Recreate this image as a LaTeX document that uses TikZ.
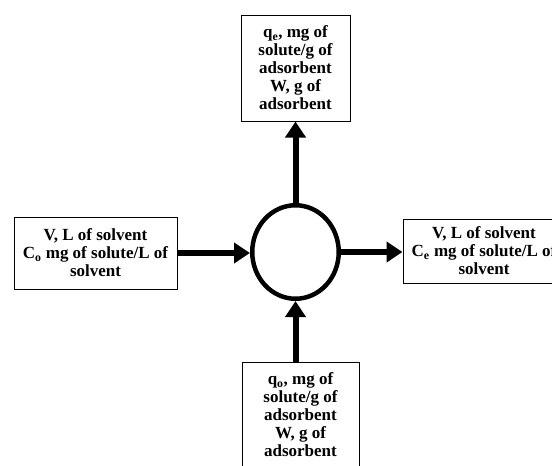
\documentclass[tikz,border=0pt]{standalone}
\usepackage{fontspec}
\setmainfont{Liberation Serif}
\usetikzlibrary{arrows.meta,shapes.geometric}
\begin{document}
\begin{tikzpicture}[x=1pt,y=-1pt,
  box/.style={draw=black,line width=1pt,fill=white,align=center,inner sep=0pt,
    font=\fontsize{17}{18}\selectfont\bfseries},
  flow/.style={line width=6pt,-{Triangle[length=16pt,width=20pt]}}]
\useasboundingbox (0,0) rectangle (552,466);
\clip (0,0) rectangle (552,466);
\node[box,minimum width=109pt,minimum height=106pt] (t) at (295.5,68)
  {q\textsubscript{e}, mg of\\solute/g of\\adsorbent\\W, g of\\adsorbent};
\node[box,minimum width=163pt,minimum height=72pt] (l) at (95.5,253)
  {V, L of solvent\\C\textsubscript{o} mg of solute/L of\\solvent};
\node[box,minimum width=162pt,minimum height=64pt] (r) at (484,251)
  {V, L of solvent\\C\textsubscript{e} mg of solute/L of\\solvent};
\node[box,minimum width=117pt,minimum height=106pt] (b) at (300.5,415)
  {q\textsubscript{o}, mg of\\solute/g of\\adsorbent\\W, g of\\adsorbent};
\node[ellipse,draw=black,line width=4.5pt,minimum width=86.5pt,minimum height=93.5pt,inner sep=0pt] (c) at (295.5,252) {};
\draw[flow] (l.east) -- (l.east -| c.west);
\draw[flow] (c.east) -- (c.east -| r.west);
\draw[flow] (c.north) -- (c.north |- t.south);
\draw[flow] (c.south |- b.north) -- (c.south);
\end{tikzpicture}
\end{document}
